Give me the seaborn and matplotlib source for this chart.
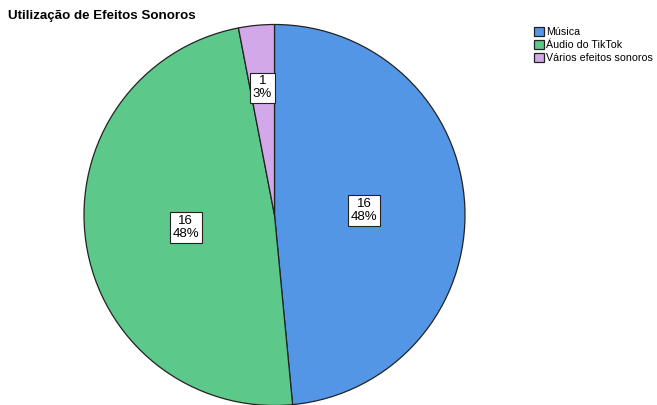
import matplotlib
matplotlib.use("Agg")
import matplotlib.pyplot as plt
import numpy as np
import seaborn as sns

categories = ["Música", "Áudio do TikTok", "Vários efeitos sonoros"]
counts = [16, 16, 1]
percent_labels = ["48%", "48%", "3%"]
colors = ["#5396E5", "#5CC98A", "#D3A8E8"]

sns.set_style("white")
plt.rcParams["font.family"] = ["Liberation Sans", "DejaVu Sans"]
plt.rcParams["text.color"] = "black"

fig = plt.figure(figsize=(6.57, 4.05), dpi=100)
ax = fig.add_axes([84 / 657, -0.5 / 405, 381 / 657, 381 / 405])

palette = sns.color_palette(colors)
wedges, _ = ax.pie(counts, colors=palette, startangle=90, counterclock=False,
                   radius=1, wedgeprops=dict(edgecolor="#222222", linewidth=0.9))
ax.set_xlim(-1, 1)
ax.set_ylim(-1, 1)
ax.set_aspect("equal")
ax.axis("off")

# label distance from the center, per slice
dist = [0.47, 0.47, 0.67]
for w, n, p, d in zip(wedges, counts, percent_labels, dist):
    ang = np.deg2rad((w.theta1 + w.theta2) / 2)
    ax.text(d * np.cos(ang), d * np.sin(ang), f"{n}\n{p}", ha="center", va="center",
            fontsize=9.5, linespacing=1.1,
            bbox=dict(boxstyle="square,pad=0.22", facecolor="white", edgecolor="#222222", linewidth=0.8))

fig.text(8 / 657, 1 - 16 / 405, "Utilização de Efeitos Sonoros", fontsize=9.6, fontweight="bold",
         ha="left", va="center")

fig.legend(wedges, categories, loc="upper left", bbox_to_anchor=(534 / 657, 1 - 27 / 405),
           frameon=False, fontsize=7.7, handlelength=0.95, handleheight=0.95, handletextpad=0.2,
           labelspacing=0.25, borderaxespad=0, borderpad=0)

fig.savefig("out.png", dpi=100)
